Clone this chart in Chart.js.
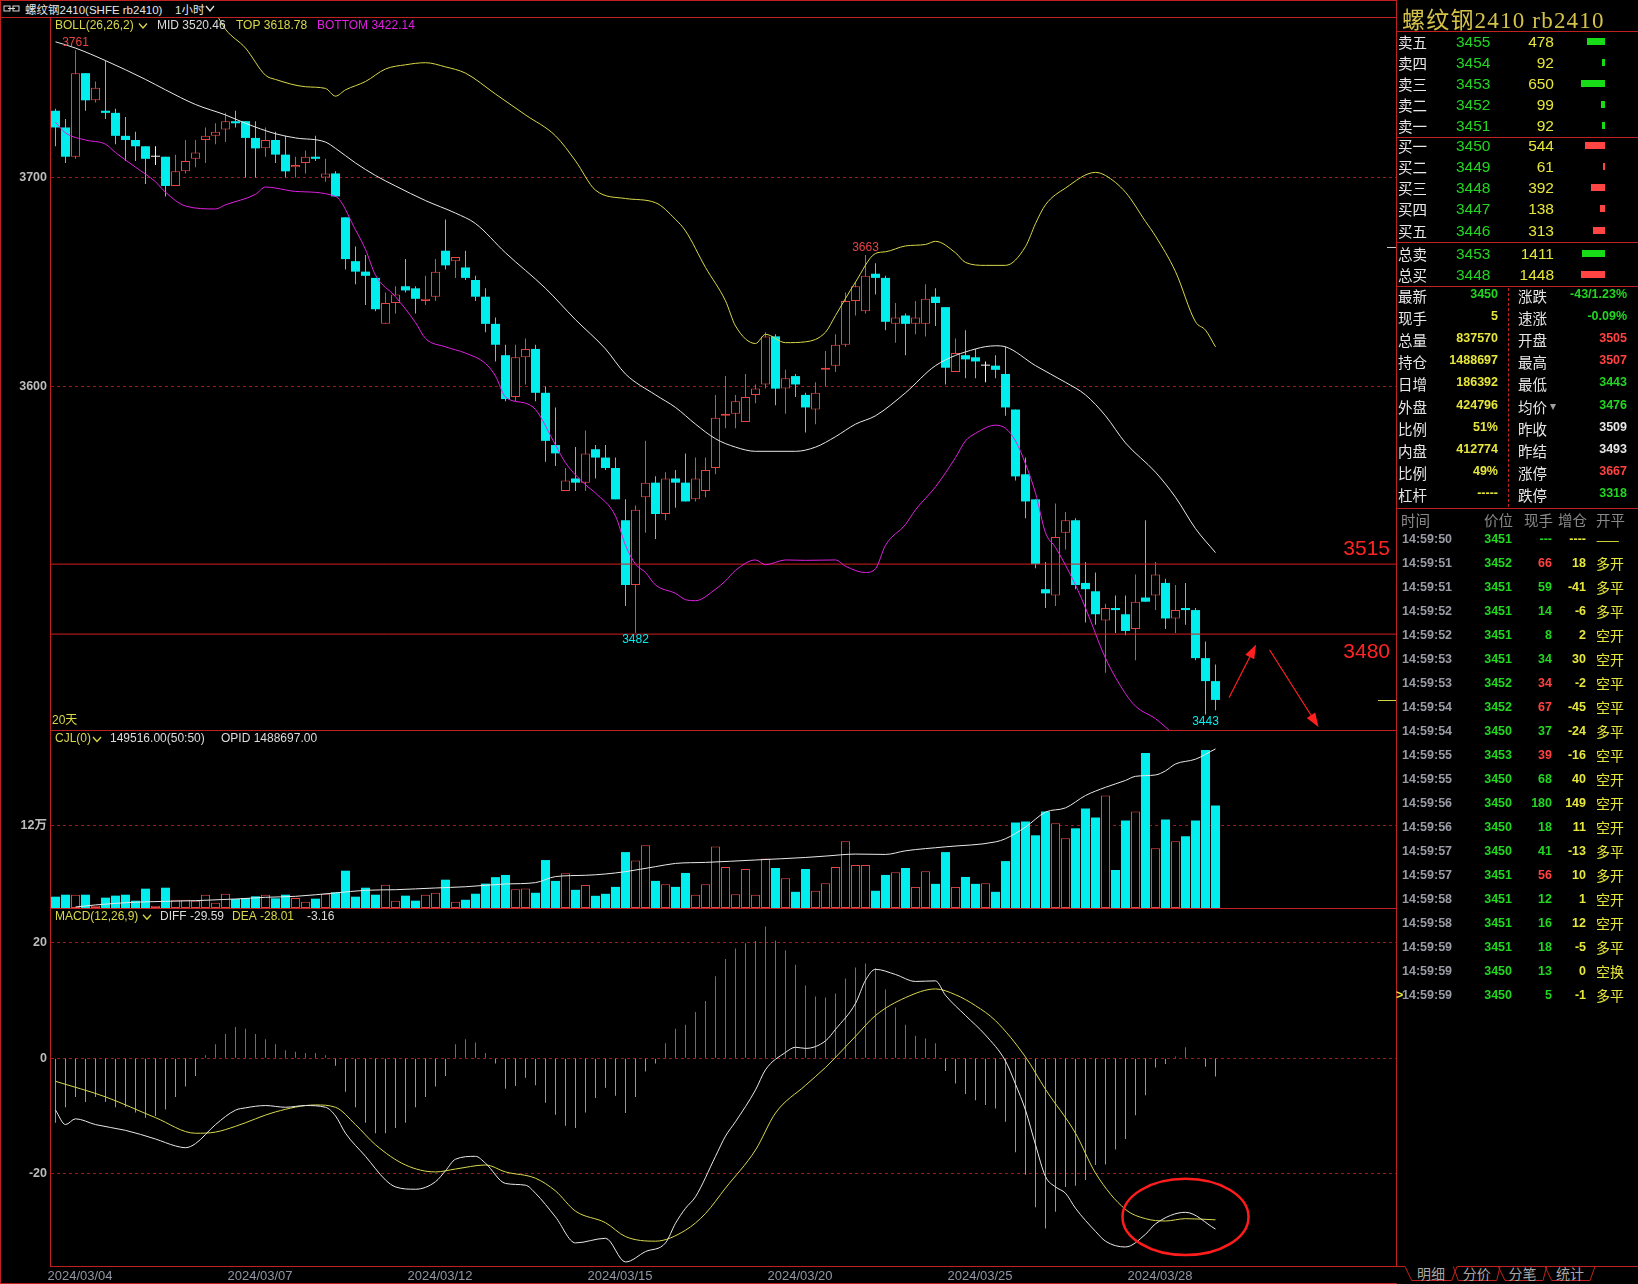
<!DOCTYPE html>
<html lang="zh-CN">
<head>
<meta charset="utf-8">
<title>螺纹钢2410 rb2410 1小时</title>
<script src="https://cdn.jsdelivr.net/npm/chart.js@4.4.1/dist/chart.umd.min.js"></script>
<style>
  html, body { margin: 0; padding: 0; background: #000; }
  body { position: relative; width: 1638px; height: 1284px; overflow: hidden;
         font-family: "Liberation Sans", "Noto Sans CJK SC", sans-serif; color: #e6e6e6; }
  canvas { position: absolute; left: 0; display: block; }
  #mainChart { top: 18px; }
  #volChart { top: 731px; }
  #macdChart { top: 909px; }
  .ln { position: absolute; background: #c02020; }
  .t { position: absolute; white-space: nowrap; }
</style>
</head>
<body>
<canvas id="mainChart" width="1397" height="712"></canvas>
<canvas id="volChart" width="1397" height="177"></canvas>
<canvas id="macdChart" width="1397" height="375"></canvas>
<div id="side"></div>
<script>
// 1 hour bars, rb2410, 2024/03/04 .. 2024/03/29 (index 0 = first bar)
const opens = [3732, 3724, 3710, 3750, 3737, 3732, 3731, 3720, 3718, 3715,
               3710, 3710, 3696, 3703, 3709, 3718, 3720, 3723, 3727, 3727,
               3719, 3714, 3718, 3711, 3705, 3707, 3710, 3700, 3702, 3681,
               3660, 3655, 3652, 3630, 3640, 3648, 3647, 3641, 3643, 3665,
               3660, 3657, 3651, 3643, 3630, 3615, 3595, 3614, 3618, 3597,
               3572, 3550, 3556, 3554, 3570, 3566, 3561, 3536, 3505, 3547,
               3554, 3539, 3556, 3554, 3546, 3550, 3561, 3586, 3587, 3583,
               3596, 3601, 3624, 3599, 3605, 3596, 3589, 3608, 3610, 3620,
               3641, 3636, 3654, 3652, 3630, 3634, 3630, 3630, 3643, 3638,
               3607, 3615, 3614, 3610, 3610, 3606, 3589, 3558, 3546, 3503,
               3500, 3530, 3536, 3506, 3502, 3488, 3494, 3491, 3484, 3499,
               3500, 3506, 3489, 3494, 3493, 3470, 3459];
const highs = [3733, 3728, 3761, 3750, 3746, 3756, 3733, 3729, 3722, 3715,
               3715, 3710, 3711, 3718, 3718, 3724, 3726, 3731, 3732, 3727,
               3727, 3724, 3722, 3720, 3710, 3713, 3720, 3709, 3703, 3681,
               3667, 3663, 3652, 3645, 3648, 3661, 3648, 3653, 3661, 3680,
               3662, 3665, 3653, 3647, 3633, 3620, 3620, 3623, 3620, 3600,
               3590, 3561, 3571, 3579, 3572, 3572, 3566, 3546, 3543, 3574,
               3557, 3559, 3560, 3568, 3566, 3566, 3596, 3605, 3596, 3606,
               3601, 3626, 3625, 3608, 3606, 3597, 3602, 3617, 3625, 3645,
               3650, 3663, 3659, 3653, 3640, 3635, 3641, 3649, 3647, 3638,
               3623, 3627, 3618, 3612, 3615, 3619, 3589, 3566, 3546, 3516,
               3544, 3540, 3537, 3516, 3511, 3496, 3500, 3500, 3510, 3536,
               3516, 3508, 3505, 3506, 3494, 3478, 3467];
const lows = [3715, 3707, 3709, 3732, 3736, 3728, 3716, 3708, 3708, 3697,
              3706, 3691, 3696, 3702, 3705, 3707, 3716, 3717, 3724, 3700,
              3700, 3710, 3707, 3700, 3700, 3702, 3708, 3698, 3691, 3656,
              3649, 3639, 3636, 3630, 3635, 3645, 3635, 3639, 3641, 3656,
              3652, 3651, 3641, 3626, 3612, 3593, 3593, 3601, 3593, 3564,
              3562, 3550, 3550, 3550, 3556, 3560, 3546, 3495, 3482, 3530,
              3527, 3536, 3542, 3545, 3545, 3547, 3558, 3580, 3580, 3583,
              3592, 3599, 3591, 3587, 3595, 3578, 3582, 3600, 3607, 3619,
              3634, 3635, 3644, 3627, 3621, 3615, 3625, 3624, 3629, 3601,
              3607, 3604, 3604, 3602, 3604, 3586, 3555, 3537, 3513, 3494,
              3495, 3522, 3503, 3487, 3486, 3463, 3482, 3481, 3469, 3497,
              3493, 3484, 3482, 3486, 3469, 3443, 3445];
const closes = [3724, 3710, 3750, 3737, 3743, 3731, 3720, 3718, 3715, 3709,
                3710, 3696, 3703, 3708, 3712, 3720, 3722, 3727, 3726, 3719,
                3714, 3718, 3711, 3703, 3706, 3710, 3709, 3702, 3691, 3661,
                3655, 3653, 3637, 3640, 3644, 3646, 3642, 3642, 3655, 3658,
                3662, 3652, 3643, 3630, 3620, 3594, 3614, 3618, 3597, 3574,
                3568, 3555, 3554, 3568, 3566, 3561, 3546, 3505, 3541, 3554,
                3539, 3556, 3554, 3545, 3556, 3560, 3585, 3587, 3593, 3595,
                3599, 3624, 3599, 3604, 3601, 3590, 3597, 3609, 3620, 3641,
                3648, 3653, 3652, 3631, 3633, 3630, 3633, 3642, 3640, 3609,
                3616, 3613, 3612, 3610, 3608, 3590, 3557, 3545, 3515, 3501,
                3528, 3536, 3505, 3503, 3491, 3494, 3493, 3483, 3497, 3497,
                3510, 3489, 3493, 3493, 3470, 3459, 3450];
const volumes = [16500, 19400, 19400, 19400, 3400, 15100, 18000, 19400, 10700, 28200,
                 3400, 29600, 12200, 12200, 10700, 19400, 7800, 20900, 13100, 14600,
                 17000, 19400, 14100, 19400, 14600, 9200, 13600, 20900, 22800, 54400,
                 16500, 29600, 19400, 34000, 10700, 18000, 10700, 19400, 22400, 41300,
                 9200, 12000, 20800, 35600, 45000, 48200, 27500, 28400, 22200, 69900,
                 39500, 50600, 26500, 33700, 17800, 20700, 30800, 81500, 69400, 91600,
                 39500, 34700, 30800, 51100, 19300, 34700, 89700, 59800, 20200, 56900,
                 19300, 72300, 58300, 43400, 23600, 56900, 25100, 36200, 59800, 97400,
                 62700, 62700, 25100, 48200, 52100, 58300, 30800, 53500, 35200, 81500,
                 30800, 45300, 35200, 36200, 23600, 68400, 124800, 126300, 106000, 140700,
                 123400, 101700, 116200, 145100, 132100, 163900, 55400, 127700, 140700, 226000,
                 87200, 129200, 97400, 104600, 127700, 230400, 149516];
const macdBars = [-11.2, -8.5, -6.7, -7.6, -6.7, -7.6, -8.5, -8.5, -9.4, -10.3,
                  -10, -8.9, -6.7, -4.9, -3.1, 0.5, 2.4, 4.2, 5.4, 5.1,
                  4.2, 3.3, 2.4, 1.4, 1.1, 0.9, 0.9, 0.5, -1.3, -5.8,
                  -8.5, -11.2, -13, -13, -12.1, -11.2, -8.5, -6.7, -4.9, -3.1,
                  2.4, 3.3, 2.7, 0.9, -0.9, -5.3, -4.8, -3.4, -4.7, -7.7,
                  -9.8, -11.7, -12.1, -9.4, -6.9, -5.1, -6.5, -9.5, -6.7, -2.3,
                  -0.9, 2.6, 5.1, 5.8, 8.0, 9.9, 14.2, 17.2, 19, 19.9,
                  20.3, 22.8, 20.4, 18.7, 16.2, 12.6, 10.7, 10.5, 11.2, 13.8,
                  15.7, 16.4, 15.6, 11.9, 8.8, 5.8, 3.9, 3.4, 2.6, -2.2,
                  -4.4, -6.2, -7.3, -8.1, -8.7, -11, -16.3, -20.2, -25.8, -29.5,
                  -26.6, -22.3, -22.1, -21.1, -18.5, -18.4, -15.8, -14, -9.9, -6.4,
                  -1.6, -1, 0.3, 1.9, 0.1, -1.5, -3.16];

// indicator lines: [bar index, value]
const bollMid = [[0,3765],[2,3762],[5,3756],[9,3747],[11,3742],[14,3735],[17,3730],[19,3726],[22,3721],[24,3719],
  [27,3717],[28,3714],[30,3707],[32,3701],[34,3696],[37,3689],[40,3683],[42,3678],[45,3664],[49,3647],
  [52,3632],[55,3618],[57,3606],[60,3596],[62,3590],[64,3582],[66,3575],[68,3571],[70,3569],[74,3569],
  [76,3571],[78,3576],[80,3582],[82,3586],[85,3597],[88,3610],[92,3618],[94,3619.5],[95,3619],[98,3610],
  [101,3602],[103,3596],[105,3586],[107,3573],[110,3559],[112,3547],[114,3532],[116,3520.5]];
const bollTop = [[16,3779],[17,3771],[19,3762],[21,3749],[22,3747],[25,3743.5],[27,3742.7],[28,3739],[29,3742],[31,3746],
  [33,3752],[35,3754],[37,3755],[39,3753],[41,3750],[44,3740],[47,3730],[50,3720],[52,3708],[54,3694],
  [57,3690],[60,3688],[62,3680],[63,3674.5],[65,3657],[67,3641],[68,3629],[70,3620.6],[71,3625],[73,3621],
  [75,3621.4],[77,3626],[78,3634],[80,3650],[82,3663.7],[83,3664.5],[85,3667.3],[87,3668],[88,3669.5],[90,3664],
  [91,3659.4],[93,3658],[95,3658],[97,3667],[98,3678],[99,3687],[101,3695],[104,3702.5],[105,3701],[107,3693],
  [109,3679],[110,3672],[112,3655],[114,3631],[115,3627],[116,3619]];
const bollBottom = [[0,3726.5],[1,3721.4],[3,3718],[5,3716],[6,3712],[8,3705],[10,3698],[11,3693],[13,3686.4],[16,3685],
  [17,3687],[20,3692],[21,3695.5],[22,3695],[24,3693.4],[28,3691],[30,3675],[31,3665.6],[32,3653.3],[34,3643],
  [36,3630.6],[37,3623],[39,3619],[41,3616],[43,3611],[44,3605],[45,3595],[47,3592],[48,3589],[50,3572],
  [51,3563.5],[53,3553],[54,3549],[56,3538],[57,3524],[58,3515],[59,3511],[60,3505],[62,3501],[63,3498],
  [64,3497.5],[66,3503],[67,3507],[68,3512],[70,3517],[71,3514.7],[73,3517],[75,3516.8],[78,3517],[79,3514],
  [81,3511],[82,3512.8],[83,3524],[85,3534],[86,3541],[88,3552],[90,3566],[91,3574],[92,3577.6],[94,3581.5],
  [95,3580],[96,3574],[97,3563],[98,3549],[99,3530],[100,3523],[102,3505],[103,3494],[105,3470],[107,3453],
  [108,3447],[110,3441],[112,3433],[114,3427],[116,3422]];
const opidLine = [[2,1500],[4,4500],[8,8500],[14,10700],[18,13100],[21,15600],[24,17000],[28,22000],[31,25800],[34,26700],
  [38,29200],[41,31000],[45,35000],[48,37000],[50,45800],[53,47700],[55,49600],[57,53000],[60,60300],[62,65000],
  [65,66500],[70,70000],[75,73700],[77,75700],[80,78600],[83,78100],[85,83400],[89,89200],[94,96400],[95,101000],
  [97,118000],[99,139800],[101,146000],[103,164000],[105,176000],[107,186000],[108,192000],[110,194000],[111,200000],
  [112,210000],[114,217000],[116,232000]];
const macdDiff = [[0,-9],[1,-11.5],[2,-10.5],[4,-11.5],[7,-12.5],[10,-14],[12,-15.2],[13,-15.5],[14,-14.8],[16,-11.5],
  [18,-9],[19,-8.6],[21,-8.2],[23,-8.5],[25,-8.2],[27,-8.5],[28,-10],[29,-13],[31,-17],[33,-21.1],
  [34,-22.3],[36,-22.7],[38,-21.4],[39,-19.5],[40,-17.5],[42,-17],[43,-18.2],[45,-21.7],[47,-22],[48,-23.4],
  [50,-27.5],[52,-32],[55,-31.2],[57,-35.3],[59,-33.5],[61,-32],[62,-28.6],[63,-26],[64,-24],[66,-17],
  [67,-13.5],[68,-11],[70,-5.5],[71,-2],[73,1],[74,1.9],[75,1.7],[77,3],[78,5],[80,9.5],
  [81,13.5],[82,15.4],[84,14.5],[86,13.3],[88,13.4],[89,10.9],[91,7.4],[93,4],[95,-0.5],[96,-4.5],
  [97,-9],[98,-15],[99,-20.5],[100,-22.3],[101,-23.4],[102,-26],[104,-30],[105,-31.7],[107,-32.7],[109,-30.5],
  [110,-28.7],[113,-26.7],[116,-29.6]];
const macdDea = [[0,-4],[5,-6.7],[10,-10.3],[14,-13],[16,-12.8],[18,-11.8],[22,-9.3],[26,-8.1],[28,-8.5],[30,-11.5],
  [32,-15],[35,-18.5],[38,-19.7],[40,-19.2],[43,-18.5],[45,-19.7],[48,-20.8],[50,-23],[52,-26.5],[55,-28.5],
  [57,-30.9],[60,-31.7],[63,-29.8],[65,-26.9],[67,-22.5],[70,-15.9],[72,-9.5],[75,-4.7],[77,-1.6],[80,3.8],
  [82,7.4],[85,10.5],[88,12],[90,11],[92,9.1],[94,6.5],[97,0.2],[99,-5.4],[102,-13],[104,-19.9],
  [107,-26.2],[109,-27.8],[111,-28.2],[113,-27.8],[116,-28]];

const dateTicks = [0, 18, 36, 54, 72, 90, 108];
const dateLabels = ['2024/03/04', '2024/03/07', '2024/03/12', '2024/03/15', '2024/03/20', '2024/03/25', '2024/03/28'];
const priceTicks = [3600, 3700];
const volTicks = [120000];
const macdTicks = [-20, 0, 20];
const levelLines = [3515, 3481.5];
const levelLabels = ['3515', '3480'];
const peakMarks = [2, 81];
const troughMarks = [58, 115];
const bollHeader = ['MID 3520.46', 'TOP 3618.78', 'BOTTOM 3422.14'];
const volHeader = ['149516.00(50:50)', 'OPID 1488697.00'];
const macdHeader = ['DIFF -29.59', 'DEA -28.01', '-3.16'];

// ---- styling helpers ----
const FONT = '"Liberation Sans", "Noto Sans CJK SC", sans-serif';
const F12 = '12px ' + FONT;
const RED = '#e84444', CYAN = '#00eeee', WHITE = '#e8e8e8', YELLOW = '#d8d84a', MAGENTA = '#e020e0';
const X_MIN = -0.45, X_MAX = 134.15;

const pts = arr => arr.map(([x, y]) => ({ x, y }));
const idx = opens.map((_, i) => i);
const dir = i => Math.sign(closes[i] - opens[i]);
const candleColor = i => dir(i) > 0 ? RED : dir(i) < 0 ? CYAN : '#f4f4f4';

function txt(ctx, s, x, y, color, font, align = 'left', base = 'middle') {
  ctx.font = font; ctx.fillStyle = color; ctx.textAlign = align; ctx.textBaseline = base;
  ctx.fillText(s, x, y);
}
function chevron(ctx, x, y, color) {
  ctx.strokeStyle = color; ctx.lineWidth = 1.3;
  ctx.beginPath(); ctx.moveTo(x, y - 2); ctx.lineTo(x + 4, y + 2.5); ctx.lineTo(x + 8, y - 2); ctx.stroke();
}
function arrow(ctx, x0, y0, x1, y1, color) {
  const a = Math.atan2(y1 - y0, x1 - x0), L = 14, W = 5;
  ctx.strokeStyle = color; ctx.fillStyle = color; ctx.lineWidth = 1.2;
  ctx.beginPath(); ctx.moveTo(x0, y0); ctx.lineTo(x1 - L * 0.7 * Math.cos(a), y1 - L * 0.7 * Math.sin(a)); ctx.stroke();
  ctx.beginPath(); ctx.moveTo(x1, y1);
  ctx.lineTo(x1 - L * Math.cos(a) + W * Math.sin(a), y1 - L * Math.sin(a) - W * Math.cos(a));
  ctx.lineTo(x1 - L * Math.cos(a) - W * Math.sin(a), y1 - L * Math.sin(a) + W * Math.cos(a));
  ctx.closePath(); ctx.fill();
}

function xAxis(show) {
  const axis = {
    type: 'linear', min: X_MIN, max: X_MAX, offset: false, display: show,
    grid: { display: false, drawTicks: false }, border: { display: false },
    afterBuildTicks: s => { s.ticks = dateTicks.map(v => ({ value: v })); },
    ticks: { autoSkip: false, maxRotation: 0, align: 'start', labelOffset: -8, padding: 3, color: '#9494a4',
             font: { size: 13, family: FONT }, callback: v => dateLabels[dateTicks.indexOf(v)] ?? '' }
  };
  if (show) axis.afterFit = s => { s.height = 18; s.paddingLeft = 0; s.paddingRight = 0; };
  return axis;
}
function yAxis(min, max, ticks, fmt) {
  return {
    type: 'linear', position: 'left', min, max,
    afterBuildTicks: s => { s.ticks = ticks.map(v => ({ value: v })); },
    afterFit: s => { s.width = 51; s.paddingTop = 0; s.paddingBottom = 0; },
    grid: { color: '#9c1a1a', lineWidth: 1, drawTicks: false },
    border: { display: false, dash: [3, 3] },
    ticks: { padding: 4, color: '#bcbcbc', font: { size: 12.5, weight: 'bold', family: FONT }, callback: fmt }
  };
}
const baseOptions = (scales) => ({
  responsive: false, animation: false, events: [],
  layout: { padding: 0 },
  plugins: { legend: { display: false }, tooltip: { enabled: false } },
  scales
});
const lineSet = (data, color, extra = {}) => Object.assign({
  type: 'line', data: pts(data), borderColor: color, borderWidth: 1, pointRadius: 0,
  cubicInterpolationMode: 'monotone', order: 0
}, extra);

// ---- main panel: candles + BOLL ----
const mainMarks = {
  id: 'mainMarks',
  afterDatasetsDraw(chart) {
    const { ctx, scales: { x, y }, chartArea: area } = chart;
    ctx.save();
    txt(ctx, 'BOLL(26,26,2)', 55, 7.5, YELLOW, F12);
    chevron(ctx, 139, 7.5, YELLOW);
    txt(ctx, bollHeader[0], 157, 7.5, '#dcdcdc', F12);
    txt(ctx, bollHeader[1], 236, 7.5, YELLOW, F12);
    txt(ctx, bollHeader[2], 317, 7.5, MAGENTA, F12);
    peakMarks.forEach(i => txt(ctx, String(highs[i]), x.getPixelForValue(i), y.getPixelForValue(highs[i]) - 1, RED, F12, 'center', 'bottom'));
    troughMarks.forEach(i => txt(ctx, String(lows[i]), x.getPixelForValue(i), y.getPixelForValue(lows[i]) + 1, CYAN, F12, 'center', 'top'));
    const F21 = '21px ' + FONT;
    txt(ctx, levelLabels[0], 1390, y.getPixelForValue(levelLines[0]) - 4, '#ff2424', F21, 'right', 'bottom');
    txt(ctx, levelLabels[1], 1390, y.getPixelForValue(levelLines[1]) + 8, '#ff2424', F21, 'right', 'top');
    const arrows = [[117.35, 3451, 120.06, 3476.5], [121.4, 3474, 126.3, 3437]];
    arrows.forEach(([a, b, c, d]) => arrow(ctx, x.getPixelForValue(a), y.getPixelForValue(b), x.getPixelForValue(c), y.getPixelForValue(d), '#ff2020'));
    [[3450, '#d4d43c', 19], [3667, '#c8c8c8', 10]].forEach(([v, c, len]) => {
      const py = Math.round(y.getPixelForValue(v)) + 0.5;
      ctx.strokeStyle = c; ctx.lineWidth = 1;
      ctx.beginPath(); ctx.moveTo(area.right - len, py); ctx.lineTo(area.right, py); ctx.stroke();
    });
    txt(ctx, '20天', 52, 703, YELLOW, F12);
    ctx.restore();
  }
};

new Chart(document.getElementById('mainChart'), {
  type: 'bar',
  data: {
    datasets: [
      { data: idx.map(i => ({ x: i, y: [lows[i], highs[i]] })), backgroundColor: idx.map(candleColor),
        barThickness: 1, grouped: false, inflateAmount: 0, order: 2 },
      { data: idx.map(i => ({ x: i, y: [opens[i], closes[i]] })),
        backgroundColor: idx.map(i => dir(i) > 0 ? '#000' : candleColor(i)),
        borderColor: idx.map(candleColor), borderWidth: idx.map(i => dir(i) > 0 ? 1 : 0),
        borderSkipped: false, barThickness: 9, minBarLength: 1, grouped: false, inflateAmount: 0, order: 1 },
      lineSet(bollMid, WHITE),
      lineSet(bollTop, YELLOW),
      lineSet(bollBottom, MAGENTA),
      ...levelLines.map(v => lineSet([[X_MIN, v], [X_MAX, v]], '#d41e1e', { cubicInterpolationMode: 'default' }))
    ]
  },
  options: baseOptions({ x: xAxis(false), y: yAxis(3435.6, 3776.4, priceTicks, v => String(v)) }),
  plugins: [mainMarks]
});

// ---- volume panel ----
const volMarks = {
  id: 'volMarks',
  afterDatasetsDraw(chart) {
    const { ctx } = chart;
    ctx.save();
    txt(ctx, 'CJL(0)', 55, 8, YELLOW, F12);
    chevron(ctx, 93, 8, YELLOW);
    txt(ctx, volHeader[0], 110, 8, '#dcdcdc', F12);
    txt(ctx, volHeader[1], 221, 8, '#dcdcdc', F12);
    ctx.restore();
  }
};

new Chart(document.getElementById('volChart'), {
  type: 'bar',
  data: {
    datasets: [
      { data: idx.map(i => ({ x: i, y: volumes[i] })),
        backgroundColor: idx.map(i => dir(i) < 0 ? CYAN : '#000'),
        borderColor: idx.map(i => dir(i) < 0 ? CYAN : RED), borderWidth: idx.map(i => dir(i) < 0 ? 0 : 1),
        borderSkipped: false, barThickness: 9, grouped: false, inflateAmount: 0, order: 1 },
      lineSet(opidLine, WHITE)
    ]
  },
  options: baseOptions({ x: xAxis(false), y: yAxis(0, 258080, volTicks, () => '12万') }),
  plugins: [volMarks]
});

// ---- MACD panel ----
const macdMarks = {
  id: 'macdMarks',
  afterDatasetsDraw(chart) {
    const { ctx, scales: { x, y } } = chart;
    ctx.save();
    txt(ctx, 'MACD(12,26,9)', 55, 7.7, YELLOW, F12);
    chevron(ctx, 143, 7.7, YELLOW);
    txt(ctx, macdHeader[0], 160, 7.7, '#dcdcdc', F12);
    txt(ctx, macdHeader[1], 232, 7.7, YELLOW, F12);
    txt(ctx, macdHeader[2], 307, 7.7, '#dcdcdc', F12);
    const cx = x.getPixelForValue(113), cy = y.getPixelForValue(-27.5);
    const rx = x.getPixelForValue(119.3) - cx, ry = y.getPixelForValue(-34.1) - cy;
    ctx.strokeStyle = '#ff1c1c'; ctx.lineWidth = 2.5;
    ctx.beginPath(); ctx.ellipse(cx, cy, rx, ry, 0, 0, Math.PI * 2); ctx.stroke();
    ctx.restore();
  }
};

new Chart(document.getElementById('macdChart'), {
  type: 'bar',
  data: {
    datasets: [
      { data: idx.map(i => ({ x: i, y: macdBars[i] })),
        backgroundColor: macdBars.map(v => v >= 0 ? '#d84040' : '#00d8d8'),
        barThickness: 1, grouped: false, inflateAmount: 0, order: 2 },
      lineSet(macdDea, '#d8d850', { order: 1 }),
      lineSet(macdDiff, WHITE)
    ]
  },
  options: baseOptions({ x: xAxis(true), y: yAxis(-36.0, 25.85, macdTicks, v => String(v)) }),
  plugins: [macdMarks]
});

// ---- frame, title bar, right quote panel ----
const side = document.getElementById('side');
const frameLines = [[0, 0, 1397, 1], [0, 17, 1397, 1], [0, 0, 1, 1284], [50, 17, 1, 1249],
  [50, 730, 1347, 1], [50, 908, 1347, 1], [50, 1266, 1347, 1], [0, 1283, 1397, 1],
  [1396, 0, 1, 1267], [1396, 31, 242, 1], [1396, 137, 242, 1], [1396, 242, 242, 1],
  [1396, 286, 242, 1], [1396, 508, 242, 1]];
frameLines.forEach(([l, t, w, h]) => {
  const d = document.createElement('div');
  d.className = 'ln';
  Object.assign(d.style, { left: l + 'px', top: t + 'px', width: w + 'px', height: h + 'px' });
  side.appendChild(d);
});
const divider = document.createElement('div');
Object.assign(divider.style, { position: 'absolute', left: '1508px', top: '288px', height: '219px', borderLeft: '1px dashed #c02020' });
side.appendChild(divider);

const CJK = '"Noto Sans CJK SC", sans-serif';
function put(text, x, cy, o = {}) {
  const d = document.createElement('div');
  const h = o.h || 20;
  const font = o.font || '15px ' + FONT;
  const shift = font.includes('Noto Sans CJK') && !font.includes('Liberation') ? -2 : 0;
  d.className = 't';
  d.textContent = text;
  d.style.top = (cy - h / 2 + shift) + 'px';
  d.style.height = h + 'px';
  d.style.lineHeight = h + 'px';
  if (o.right) d.style.right = (1638 - x) + 'px'; else d.style.left = x + 'px';
  d.style.color = o.color || '#e6e6e6';
  d.style.font = font;
  if (o.ls) d.style.letterSpacing = o.ls;
  side.appendChild(d);
  return d;
}
const C = { g: '#22d622', y: '#e6e63c', r: '#ff4242', w: '#e6e6e6', gray: '#9a9aa4' };

// title bar
const icon = document.createElementNS('http://www.w3.org/2000/svg', 'svg');
icon.setAttribute('width', '18'); icon.setAttribute('height', '10');
icon.style.cssText = 'position:absolute;left:3px;top:4px';
icon.innerHTML = '<rect x="1" y="2" width="6" height="5" fill="none" stroke="#d8d8d8"/><rect x="10" y="2" width="6" height="5" fill="none" stroke="#d8d8d8"/><line x1="5" y1="4.5" x2="12" y2="4.5" stroke="#d8d8d8"/>';
side.appendChild(icon);
put('螺纹钢2410(SHFE rb2410)', 25, 8.5, { font: '11.5px ' + FONT, h: 16 });
put('1小时', 175, 8.5, { font: '11.5px ' + FONT, h: 16 });
const chev = document.createElementNS('http://www.w3.org/2000/svg', 'svg');
chev.setAttribute('width', '12'); chev.setAttribute('height', '10');
chev.style.cssText = 'position:absolute;left:205px;top:4px';
chev.innerHTML = '<polyline points="1,2 5,7 9,2" fill="none" stroke="#e0e0e0" stroke-width="1.3"/>';
side.appendChild(chev);

// quote panel
put('螺纹钢2410 rb2410', 1402, 15, { font: '23px "Liberation Serif", ' + CJK, color: '#d4c24a', h: 28, ls: '1.2px' });

const bookRows = [['卖五', 3455, 478], ['卖四', 3454, 92], ['卖三', 3453, 650], ['卖二', 3452, 99], ['卖一', 3451, 92],
                  ['买一', 3450, 544], ['买二', 3449, 61], ['买三', 3448, 392], ['买四', 3447, 138], ['买五', 3446, 313]];
const bookTotals = [['总卖', 3453, 1411], ['总买', 3448, 1448]];
const bookMax = Math.max(...bookRows.map(r => r[2]));
const totalMax = Math.max(...bookTotals.map(r => r[2]));
function bookRow(row, cy, barColor, barW) {
  put(row[0], 1398, cy, { font: '14.5px ' + CJK, color: '#e8e8e8' });
  put(String(row[1]), 1456, cy, { color: C.g, font: '15.5px ' + FONT });
  put(String(row[2]), 1554, cy, { right: true, color: C.y, font: '15.5px ' + FONT });
  const b = document.createElement('div');
  Object.assign(b.style, { position: 'absolute', right: (1638 - 1605) + 'px', top: (cy - 5) + 'px',
    height: '7px', width: Math.max(2, barW) + 'px', background: barColor });
  side.appendChild(b);
}
bookRows.forEach((r, i) => {
  const cy = i < 5 ? 42.7 + i * 21 : 146.7 + (i - 5) * 21.25;
  bookRow(r, cy, i < 5 ? '#18dc18' : '#ff4444', r[2] / bookMax * 24);
});
bookTotals.forEach((r, i) => bookRow(r, 255 + i * 20.7, i === 0 ? '#18dc18' : '#ff4444', r[2] / totalMax * 24));

const statRows = [
  ['最新', '3450', 'g', '涨跌', '-43/1.23%', 'g'],
  ['现手', '5', 'y', '速涨', '-0.09%', 'g'],
  ['总量', '837570', 'y', '开盘', '3505', 'r'],
  ['持仓', '1488697', 'y', '最高', '3507', 'r'],
  ['日增', '186392', 'y', '最低', '3443', 'g'],
  ['外盘', '424796', 'y', '均价', '3476', 'g'],
  ['比例', '51%', 'y', '昨收', '3509', 'w'],
  ['内盘', '412774', 'y', '昨结', '3493', 'w'],
  ['比例', '49%', 'y', '涨停', '3667', 'r'],
  ['杠杆', '-----', 'y', '跌停', '3318', 'g']
];
statRows.forEach((r, i) => {
  const cy = 297 + i * 22.1;
  put(r[0], 1398, cy, { font: '14.5px ' + CJK });
  put(r[1], 1498, cy, { right: true, color: C[r[2]], font: 'bold 12.5px ' + FONT });
  put(r[3], 1518, cy, { font: '14.5px ' + CJK });
  put(r[4], 1627, cy, { right: true, color: C[r[5]], font: 'bold 12.5px ' + FONT });
  if (r[3] === '均价') put('▾', 1550, cy + 1, { color: '#a0a0a0', font: '12px "DejaVu Sans"' });
});

const tickHead = [['时间', 1401], ['价位', 1484], ['现手', 1524], ['增仓', 1558], ['开平', 1596]];
tickHead.forEach(([s, x]) => put(s, x, 520.7, { color: '#8a8a8a', font: '14.5px ' + CJK }));

const tickRows = [
  ['14:59:50', 3451, '---', 'g', '----', '——'],
  ['14:59:51', 3452, '66', 'r', '18', '多开'],
  ['14:59:51', 3451, '59', 'g', '-41', '多平'],
  ['14:59:52', 3451, '14', 'g', '-6', '多平'],
  ['14:59:52', 3451, '8', 'g', '2', '空开'],
  ['14:59:53', 3451, '34', 'g', '30', '空开'],
  ['14:59:53', 3452, '34', 'r', '-2', '空平'],
  ['14:59:54', 3452, '67', 'r', '-45', '空平'],
  ['14:59:54', 3450, '37', 'g', '-24', '多平'],
  ['14:59:55', 3453, '39', 'r', '-16', '空平'],
  ['14:59:55', 3450, '68', 'g', '40', '空开'],
  ['14:59:56', 3450, '180', 'g', '149', '空开'],
  ['14:59:56', 3450, '18', 'g', '11', '空开'],
  ['14:59:57', 3450, '41', 'g', '-13', '多平'],
  ['14:59:57', 3451, '56', 'r', '10', '多开'],
  ['14:59:58', 3451, '12', 'g', '1', '空开'],
  ['14:59:58', 3451, '16', 'g', '12', '空开'],
  ['14:59:59', 3451, '18', 'g', '-5', '多平'],
  ['14:59:59', 3450, '13', 'g', '0', '空换'],
  ['14:59:59', 3450, '5', 'g', '-1', '多平']
];
tickRows.forEach((r, i) => {
  const cy = 542.3 + i * 23.97;
  const B = 'bold 12.5px ' + FONT;
  put(r[0], 1402, cy, { color: C.gray, font: B });
  put(String(r[1]), 1512, cy, { right: true, color: C.g, font: B });
  put(r[2], 1552, cy, { right: true, color: C[r[3]], font: B });
  put(r[4], 1586, cy, { right: true, color: C.y, font: B });
  put(r[5], 1596, cy - 1, { color: C.y, font: '14px ' + CJK });
  if (i === tickRows.length - 1) put('>', 1396, cy, { color: C.y, font: B });
});

// bottom tabs
const tabs = document.createElementNS('http://www.w3.org/2000/svg', 'svg');
tabs.setAttribute('width', '241'); tabs.setAttribute('height', '18');
tabs.style.cssText = 'position:absolute;left:1397px;top:1266px';
const tabShapes = [['明细', 8, 60, 14.7, 54.7], ['分价', 56.3, 103, 61.3, 99.7], ['分笔', 101.3, 149.7, 108, 146], ['统计', 148, 198, 154.7, 193]];
let svg = '<line x1="0" y1="0.5" x2="8" y2="0.5" stroke="#c02020"/><line x1="60" y1="0.5" x2="241" y2="0.5" stroke="#c02020"/>';
tabShapes.forEach(([s, a, b, c, d]) => {
  svg += `<polyline points="${a},0.5 ${c},14.5 ${d},14.5 ${b},0.5" fill="none" stroke="#c02020"/>`;
  svg += `<text x="${(a + b) / 2}" y="12.5" text-anchor="middle" font-size="14" fill="#a8a8a8" font-family='"Noto Sans CJK SC", sans-serif'>${s}</text>`;
});
tabs.innerHTML = svg;
side.appendChild(tabs);
</script>
</body>
</html>
